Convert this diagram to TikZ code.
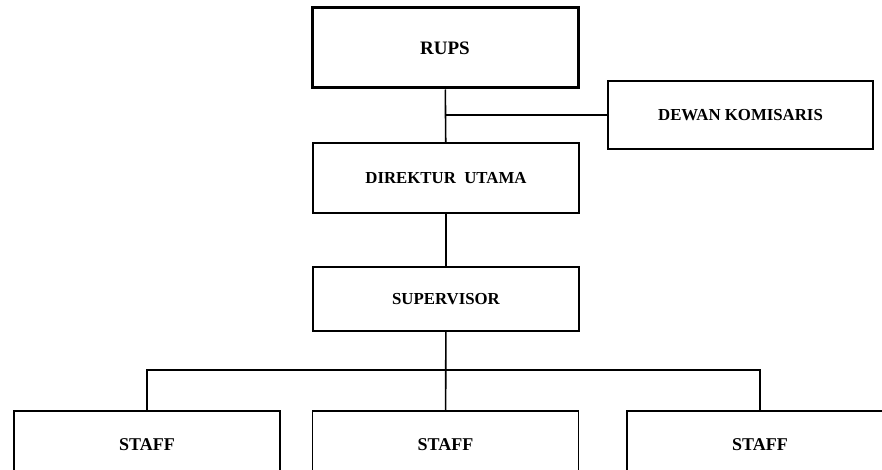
\documentclass[tikz,border=0pt]{standalone}
\usepackage{fontspec}
\setmainfont{Liberation Serif}
\usetikzlibrary{positioning}

\begin{document}
\begin{tikzpicture}[x=1pt,y=-1pt,
        unit/.style={draw,line width=1.6pt,fill=white,minimum width=266pt,inner sep=0pt,
          font=\fontsize{16.8}{19}\selectfont\bfseries},
        link/.style={line width=1.6pt}]
        \useasboundingbox (0,0) rectangle (882,470);
        \clip (0,0) rectangle (882,470);

        \node[unit,line width=3pt,minimum height=80pt,font=\fontsize{19}{21}\selectfont\bfseries] (rups) at (445,48) {RUPS};
        \node[unit,minimum width=265pt,minimum height=68pt] (dewan) at (740.5,115) {DEWAN KOMISARIS};
        \node[unit,minimum height=70pt] (direktur) at (446,178) {DIREKTUR\ \ UTAMA};
        \node[unit,minimum height=64pt] (supervisor) at (446,299) {SUPERVISOR};
        \foreach \name/\x in {staffa/147, staffb/445.5, staffc/760} {
          \node[unit,minimum height=68pt,font=\fontsize{18}{20}\selectfont\bfseries] (\name) at (\x,445) {STAFF};
        }

        \coordinate (bar) at (446,370);

        \draw[link] (rups) -- (direktur);
        \draw[link] (dewan.west) -- (dewan.west -| rups.south);
        \draw[link] (direktur) -- (supervisor);
        \draw[link] (supervisor) -- (staffb);
        \draw[link] (staffa.north) |- (bar) -| (staffc.north);
\end{tikzpicture}
\end{document}
